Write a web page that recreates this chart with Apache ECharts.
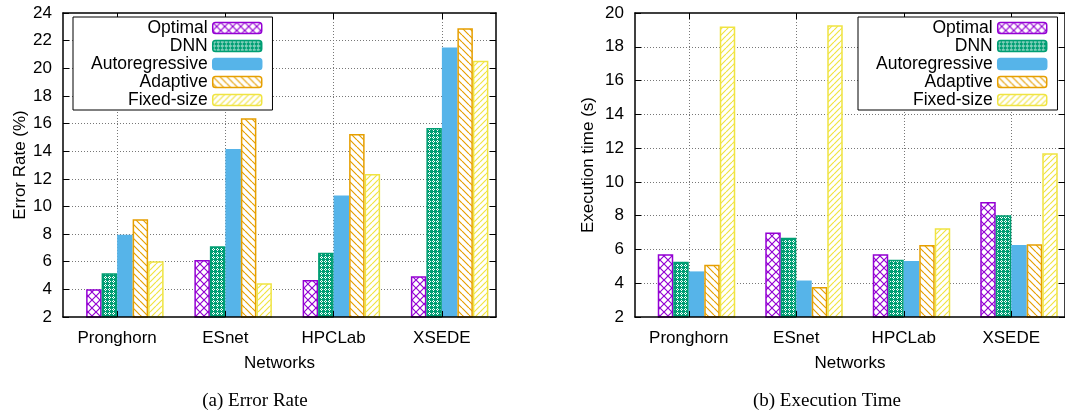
<!DOCTYPE html>
<html><head><meta charset="utf-8">
<script src="https://cdn.jsdelivr.net/npm/echarts@6/dist/echarts.min.js"></script>
<style>html,body{margin:0;padding:0;background:#fff}#c{width:1065px;height:416px}</style>
</head><body><div id="c"></div>
<script>
const categories = ['Pronghorn', 'ESnet', 'HPCLab', 'XSEDE'];
const methods = ['Optimal', 'DNN', 'Autoregressive', 'Adaptive', 'Fixed-size'];

// (a) Error Rate (%)
const errOptimal  = [4.0, 6.12, 4.68, 4.95];
const errDNN      = [5.16, 7.12, 6.65, 15.68];
const errAuto     = [7.95, 14.15, 10.8, 21.5];
const errAdaptive = [9.07, 16.38, 15.24, 22.89];
const errFixed    = [6.03, 4.44, 12.35, 20.55];

// (b) Execution time (s)
const timeOptimal  = [5.72, 7.0, 5.72, 8.81];
const timeDNN      = [5.27, 6.69, 5.39, 8.03];
const timeAuto     = [4.7, 4.16, 5.31, 6.27];
const timeAdaptive = [5.09, 3.77, 6.26, 6.31];
const timeFixed    = [19.2, 19.27, 7.26, 11.69];

const errAxis = [2, 24, 2];   // min, max, step
const timeAxis = [2, 20, 2];

const colors = ['#9400d3', '#009e73', '#56b4e9', '#e69f00', '#f0e442'];
const kinds = ['cross', 'dots', 'solid', 'back', 'fwd'];
const SANS = 'Liberation Sans, Arial, Helvetica, sans-serif';
const SERIF = 'Liberation Serif, Times New Roman, serif';

function pattern(kind, color) {
  if (kind === 'solid') return color;
  const s = {cross: 8, dots: 4, back: 7, fwd: 6}[kind];
  const cv = document.createElement('canvas');
  cv.width = s; cv.height = s;
  const g = cv.getContext('2d');
  g.fillStyle = '#fff'; g.fillRect(0, 0, s, s);
  g.strokeStyle = color; g.lineWidth = 1.2;
  g.beginPath();
  if (kind === 'cross') {
    g.moveTo(-1, -1); g.lineTo(s + 1, s + 1);
    g.moveTo(-1, s + 1); g.lineTo(s + 1, -1);
  } else if (kind === 'back') {
    [-s, 0, s].forEach(k => { g.moveTo(k, 0); g.lineTo(k + s, s); });
  } else if (kind === 'fwd') {
    [-s, 0, s].forEach(k => { g.moveTo(k, s); g.lineTo(k + s, 0); });
  }
  g.stroke();
  if (kind === 'dots') {
    g.fillStyle = color; g.fillRect(0, 0, s, s);
    g.fillStyle = '#fff';
    [[1, 0], [0, 1], [2, 1], [1, 2]].forEach(p => g.fillRect(p[0], p[1], 1, 1));
  }
  return {image: cv, repeat: 'repeat'};
}

const BW = 15.5;
function makeSeries(datasets, axisIdx) {
  const out = [{
    type: 'bar', name: '_pad' + axisIdx, data: categories.map(() => null),
    xAxisIndex: axisIdx * 2, yAxisIndex: axisIdx * 2, barWidth: BW, barGap: '0%', silent: true
  }];
  datasets.forEach((d, i) => {
    out.push({
      type: 'bar', name: methods[i], data: d,
      xAxisIndex: axisIdx * 2, yAxisIndex: axisIdx * 2,
      barWidth: BW, barGap: '0%',
      itemStyle: {color: pattern(kinds[i], colors[i]), borderColor: colors[i], borderWidth: kinds[i] === 'solid' ? 0 : 1.5},
      emphasis: {disabled: true}
    });
  });
  return out;
}

const tickStyle = {show: true, inside: true, length: 6, lineStyle: {color: '#000', width: 1}};
const lineStyle = {show: true, lineStyle: {color: '#000', width: 1.5}};
const gridLine = {color: '#777', width: 1, type: [1, 2]};

function xAxes(gi) {
  return [{
    gridIndex: gi, type: 'category', data: categories, position: 'bottom', z: 3,
    axisLine: lineStyle, axisTick: Object.assign({alignWithLabel: true}, tickStyle),
    axisLabel: {fontSize: 17, color: '#000', fontFamily: SANS, margin: 13},
    splitLine: {show: false},
    name: 'Networks', nameLocation: 'middle', nameGap: 38,
    nameTextStyle: {fontSize: 17, color: '#000', fontFamily: SANS}
  }, {
    gridIndex: gi, type: 'category', data: categories, position: 'top',
    axisLine: lineStyle, axisTick: Object.assign({alignWithLabel: true}, tickStyle),
    axisLabel: {show: false},
    splitLine: {show: true, alignWithLabel: true, lineStyle: gridLine}
  }];
}
function yAxes(gi, ax, name, nameGap) {
  return [{
    gridIndex: gi, type: 'value', min: ax[0], max: ax[1], interval: ax[2], position: 'left',
    axisLine: lineStyle, axisTick: tickStyle,
    axisLabel: {fontSize: 17, color: '#000', fontFamily: SANS, margin: 11},
    splitLine: {show: true, showMinLine: false, showMaxLine: false, lineStyle: gridLine},
    name: name, nameLocation: 'middle', nameGap: nameGap,
    nameTextStyle: {fontSize: 17, color: '#000', fontFamily: SANS}
  }, {
    gridIndex: gi, type: 'value', min: ax[0], max: ax[1], interval: ax[2], position: 'right',
    axisLine: lineStyle, axisTick: tickStyle, axisLabel: {show: false}, splitLine: {show: false}
  }];
}
function legend(left) {
  return {
    data: methods, orient: 'vertical', align: 'right', left: left, top: 17,
    itemWidth: 49, itemHeight: 11, itemGap: 0, padding: [2, 10, 1, 18],
    borderColor: '#000', borderWidth: 1, backgroundColor: '#fff', borderRadius: 0,
    selectedMode: false, itemStyle: {borderWidth: 1.5},
    textStyle: {fontSize: 17.5, color: '#000', fontFamily: SANS}
  };
}

const chart = echarts.init(document.getElementById('c'), null, {renderer: 'canvas'});
chart.setOption({
  animation: false,
  backgroundColor: '#fff',
  grid: [
    {left: 63, top: 13, width: 433, height: 304},
    {left: 635, top: 13, width: 433, height: 304}
  ],
  xAxis: [...xAxes(0), ...xAxes(1)],
  yAxis: [...yAxes(0, errAxis, 'Error Rate (%)', 31), ...yAxes(1, timeAxis, 'Execution time (s)', 38)],
  legend: [legend(73), legend(858)],
  series: [
    ...makeSeries([errOptimal, errDNN, errAuto, errAdaptive, errFixed], 0),
    ...makeSeries([timeOptimal, timeDNN, timeAuto, timeAdaptive, timeFixed], 1)
  ],
  graphic: [
    {type: 'text', x: 255, y: 401, style: {text: '(a) Error Rate', align: 'center', verticalAlign: 'middle', font: '19px ' + SERIF, fill: '#000'}},
    {type: 'text', x: 827, y: 401, style: {text: '(b) Execution Time', align: 'center', verticalAlign: 'middle', font: '19px ' + SERIF, fill: '#000'}}
  ]
});
</script>
</body></html>
